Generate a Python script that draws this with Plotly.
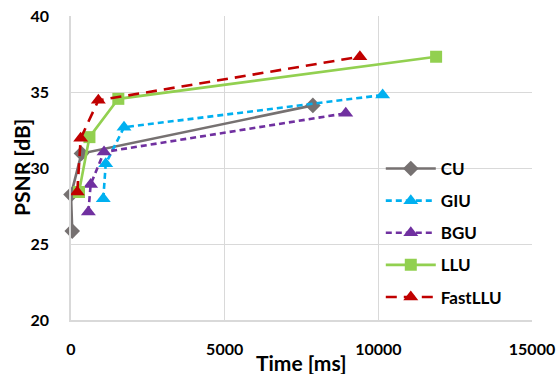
import plotly.graph_objects as go

# Encoding time (ms) vs. PSNR (dB) for each upsampling method
cu_time = [40, 0, 340, 7870]
cu_psnr = [25.85, 28.25, 30.95, 34.12]

giu_time = [1050, 1130, 1725, 10140]
giu_psnr = [27.97, 30.28, 32.68, 34.8]

bgu_time = [565, 640, 1075, 8940]
bgu_psnr = [27.1, 28.92, 31.05, 33.6]

llu_time = [260, 600, 1540, 11880]
llu_psnr = [28.42, 32.03, 34.55, 37.32]

fastllu_time = [205, 315, 890, 9400]
fastllu_psnr = [28.42, 31.95, 34.45, 37.32]

x_ticks = [0, 5000, 10000, 15000]
y_ticks = [20, 25, 30, 35, 40]

series = [
    ("CU", cu_time, cu_psnr, "#767171", "solid", "diamond", 12),
    ("GIU", giu_time, giu_psnr, "#00B0F0", "6px,4px", "triangle-up", 13),
    ("BGU", bgu_time, bgu_psnr, "#7030A0", "6px,4px", "triangle-up", 13),
    ("LLU", llu_time, llu_psnr, "#92D050", "solid", "square", 12),
    ("FastLLU", fastllu_time, fastllu_psnr, "#C00000", "11px,7px", "triangle-up", 13),
]

fig = go.Figure()
for name, xs, ys, color, dash, symbol, size in series:
    fig.add_trace(go.Scatter(
        x=xs, y=ys, name=name, mode="lines+markers",
        line=dict(color=color, width=2.6, dash=dash),
        marker=dict(symbol=symbol, size=size, color=color),
        legendgroup=name, cliponaxis=False,
    ))

font = "Lato, 'Open Sans', sans-serif"
grid = "#D9D9D9"

W, H = 557, 374
ML, MR, MT, MB = 71, 25, 16, 54
plot_w = W - ML - MR
plot_h = H - MT - MB

fig.update_layout(
    width=W, height=H,
    margin=dict(l=ML, r=MR, t=MT, b=MB, autoexpand=False),
    paper_bgcolor="white", plot_bgcolor="white",
    font=dict(family=font, size=16, color="black"),
    legend=dict(
        x=0.672, y=0.556, xanchor="left", yanchor="top",
        bgcolor="rgba(0,0,0,0)", borderwidth=0,
        font=dict(family=font, size=17, color="black", weight="bold"),
        itemwidth=50, tracegroupgap=7,
    ),
    xaxis=dict(
        range=[0, 15000], tickvals=x_ticks, ticktext=[str(v) for v in x_ticks],
        showgrid=True, gridcolor=grid, gridwidth=1, zeroline=False,
        showline=True, linecolor=grid, linewidth=1.5,
        ticks="", ticklabelstandoff=14, automargin=False,
        tickfont=dict(family=font, size=16, weight="bold"),
        fixedrange=True,
    ),
    yaxis=dict(
        range=[20, 40], tickvals=y_ticks, ticktext=[str(v) for v in y_ticks],
        showgrid=True, gridcolor=grid, gridwidth=1, zeroline=False,
        showline=True, linecolor=grid, linewidth=1.5,
        ticks="", ticklabelstandoff=17, automargin=False,
        tickfont=dict(family=font, size=16, weight="bold"),
        fixedrange=True,
    ),
    annotations=[
        dict(text="Time [ms]", x=0.5, y=-42 / plot_h, xref="paper", yref="paper",
             xanchor="center", yanchor="middle", showarrow=False,
             font=dict(family=font, size=21, weight="bold")),
        dict(text="PSNR [dB]", x=-50 / plot_w, y=0.5, xref="paper", yref="paper",
             xanchor="center", yanchor="middle", showarrow=False, textangle=-90,
             font=dict(family=font, size=21, weight="bold")),
    ],
)

fig.write_html("out.html")
